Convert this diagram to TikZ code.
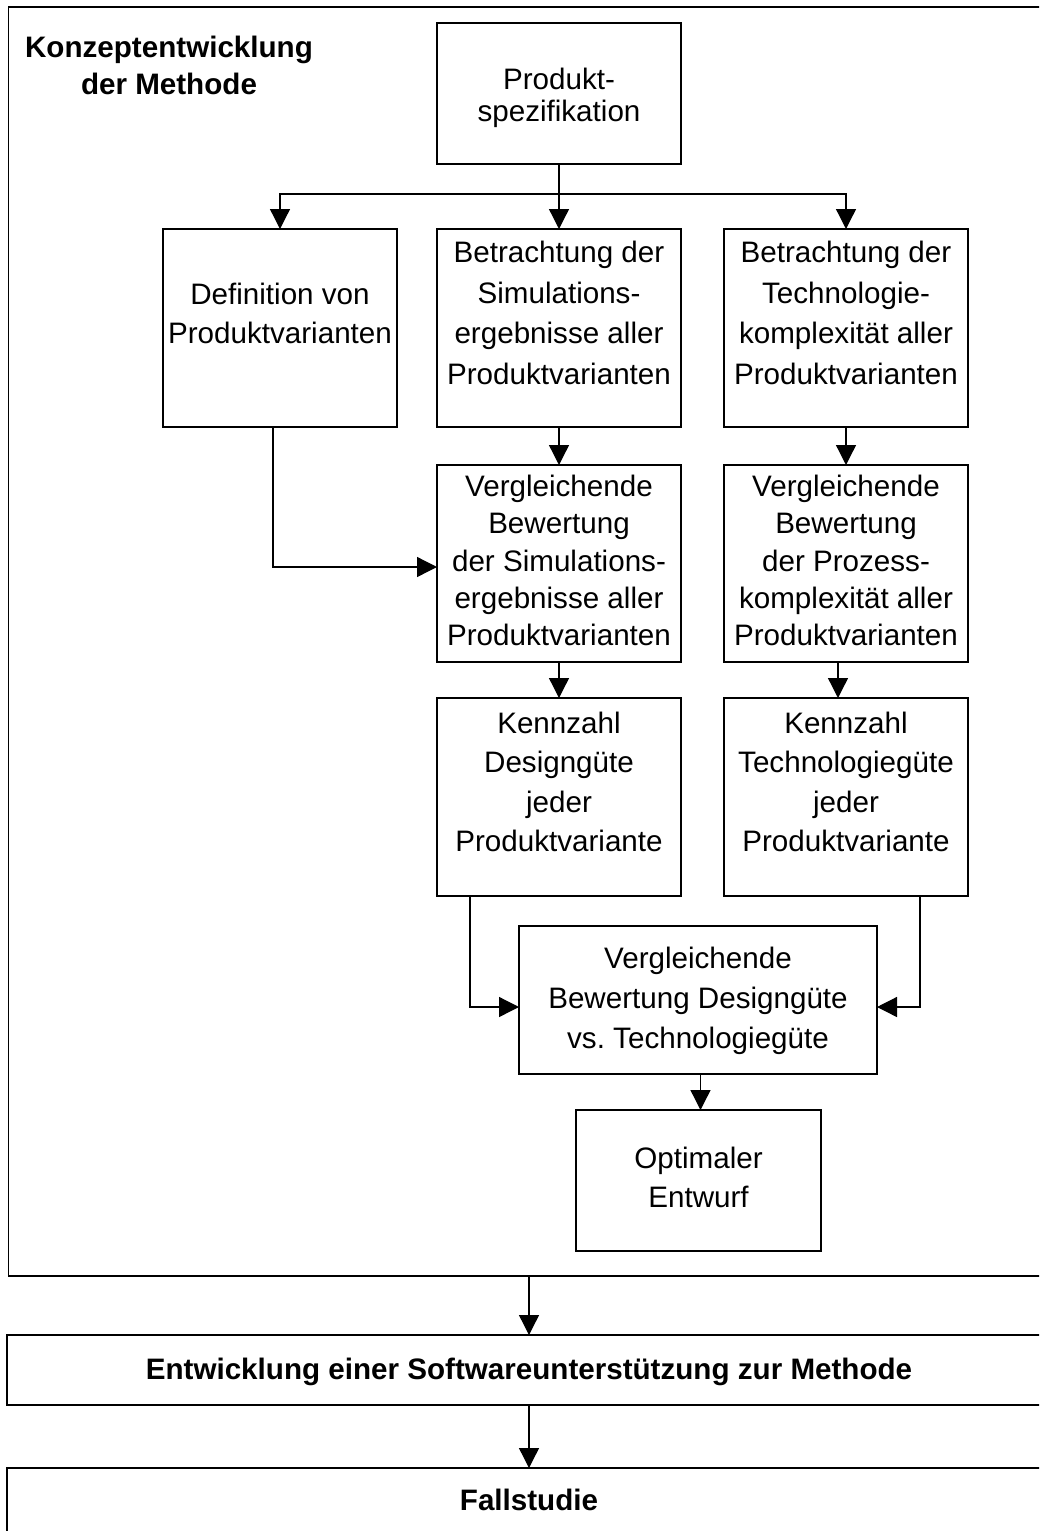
\documentclass[tikz,border=0pt]{standalone}
\usepackage{fontspec}
\setmainfont{Liberation Sans}
\usetikzlibrary{arrows.meta,calc}
\frenchspacing

\tikzset{
  box/.style={draw, line width=1.3pt, inner sep=0pt, outer sep=0pt},
  lbl/.style={align=center, inner sep=0pt, anchor=base},
  arr/.style={line width=1.3pt, -{Triangle[length=20pt,width=20pt]}},
}
\newcommand{\fs}[1]{\fontsize{29.6}{#1}\selectfont}

\begin{document}
\begin{tikzpicture}[x=1pt,y=-1pt]
\useasboundingbox (0,0) rectangle (1039,1531);
\clip (0,0) rectangle (1039,1531);

% outer frame of the concept phase
\node[box, minimum width=1041, minimum height=1269] (frame) at (529,641.5) {};
% multi-line labels are placed by the baseline of their last line
\node[lbl, font=\fs{37}\bfseries] (title) at (169,94) {Konzeptentwicklung\\der Methode};

% boxes
\node[box, minimum width=244, minimum height=141] (spec) at (559,93.5) {};
\node[box, minimum width=234, minimum height=198] (def) at (280,328) {};
\node[box, minimum width=244, minimum height=198] (sim) at (559,328) {};
\node[box, minimum width=244, minimum height=198] (tech) at (846,328) {};
\node[box, minimum width=244, minimum height=197] (vsim) at (559,563.5) {};
\node[box, minimum width=244, minimum height=197] (vproc) at (846,563.5) {};
\node[box, minimum width=244, minimum height=198] (kdes) at (559,797) {};
\node[box, minimum width=244, minimum height=198] (ktech) at (846,797) {};
\node[box, minimum width=358, minimum height=148] (final) at (698,1000) {};
\node[box, minimum width=245, minimum height=141] (opt) at (698.5,1180.5) {};
\node[box, minimum width=1044, minimum height=70] (ent) at (529,1370) {};
\node[box, minimum width=1044, minimum height=77] (fall) at (529,1506.5) {};

% box texts
\node[lbl, font=\fs{31.5}] (spec-t) at (559,121) {Produkt-\\spezifikation};
\node[lbl, font=\fs{39}] (def-t) at (280,343) {Definition von\\Produktvarianten};
\node[lbl, font=\fs{40.5}] (sim-t) at (559,384) {Betrachtung der\\Simulations-\\ergebnisse aller\\Produktvarianten};
\node[lbl, font=\fs{40.5}] (tech-t) at (846,384) {Betrachtung der\\Technologie-\\komplexität aller\\Produktvarianten};
\node[lbl, font=\fs{37.3}] (vsim-t) at (559,645.8) {Vergleichende\\Bewertung\\der Simulations-\\ergebnisse aller\\Produktvarianten};
\node[lbl, font=\fs{37.3}] (vproc-t) at (846,645.8) {Vergleichende\\Bewertung\\der Prozess-\\komplexität aller\\Produktvarianten};
\node[lbl, font=\fs{39.5}] (kdes-t) at (559,851.5) {Kennzahl\\Designgüte\\jeder\\Produktvariante};
\node[lbl, font=\fs{39.5}] (ktech-t) at (846,851.5) {Kennzahl\\Technologiegüte\\jeder\\Produktvariante};
\node[lbl, font=\fs{40}] (final-t) at (698,1048) {Vergleichende\\Bewertung Designgüte\\vs. Technologiegüte};
\node[lbl, font=\fs{39}] (opt-t) at (698.5,1207.7) {Optimaler\\Entwurf};
\node[lbl, font=\fs{36}\bfseries] (ent-t) at (529,1379) {Entwicklung einer Softwareunterstützung zur Methode};
\node[lbl, font=\fs{36}\bfseries] (fall-t) at (529,1510) {Fallstudie};

% connectors
\coordinate (fork) at ($(spec.south)+(0,30)$);
\draw[arr] (spec.south) -- (sim.north);
\draw[arr] (fork) -| (def.north);
\draw[arr] (fork) -| (tech.north);
\draw[arr] (sim.south) -- (vsim.north);
\draw[arr] (tech.south) -- (vproc.north);
\draw[arr] ([xshift=-7pt]def.south) |- ([yshift=-3.5pt]vsim.west);
\draw[arr] (vsim.south) -- (kdes.north);
\draw[arr] ([xshift=-8pt]vproc.south) -- ([xshift=-8pt]ktech.north);
\draw[arr] ([xshift=-89pt]kdes.south) |- ([yshift=-7pt]final.west);
\draw[arr] ([xshift=74pt]ktech.south) |- ([yshift=-7pt]final.east);
\draw[arr] ([xshift=2.5pt]final.south) -- ([xshift=2pt]opt.north);
\draw[arr] (frame.south) -- (ent.north);
\draw[arr] (ent.south) -- (fall.north);
\end{tikzpicture}
\end{document}
